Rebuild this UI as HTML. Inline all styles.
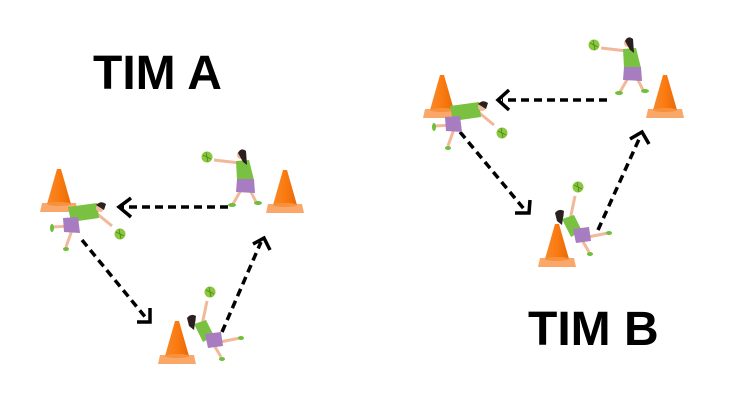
<!DOCTYPE html>
<html><head><style>
html,body{margin:0;padding:0;background:#fff;}
svg{display:block;}
text{font-family:"Liberation Sans",sans-serif;font-weight:bold;font-size:48px;fill:#000;}
</style></head><body>
<svg width="736" height="413" viewBox="0 0 736 413" xmlns="http://www.w3.org/2000/svg">
<defs>
<linearGradient id="cg" x1="0" x2="1">
<stop offset="0" stop-color="#f58a2a"/><stop offset="0.5" stop-color="#fb7a10"/><stop offset="1" stop-color="#e86a08"/>
</linearGradient>
<g id="cone">
<polygon points="-17,-4 17,-4 19,5 -19,5" fill="#f9a86a"/>
<polygon points="-2,-38 2,-38 12,-3 -12,-3" fill="url(#cg)"/>
<ellipse cx="0" cy="-3" rx="12" ry="2" fill="#f7913e"/>
</g>
<g id="ball"><circle r="5.5" fill="#8bc63f"/><path d="M-4,-2 L4,2 M-1,-5 L1,5" stroke="#4a8a1a" stroke-width="0.8"/></g>
<g id="p1">
<line x1="240" y1="163" x2="214" y2="160" stroke="#f2b89a" stroke-width="3"/>
<line x1="241" y1="190" x2="233" y2="204" stroke="#f2b89a" stroke-width="3"/>
<line x1="250" y1="190" x2="256" y2="202" stroke="#f2b89a" stroke-width="3"/>
<polygon points="236,161 249,160 254,180 237,180" fill="#7ac142"/>
<polygon points="237,179 254,179 255,193 236,192" fill="#a77cc0"/>
<circle cx="241" cy="155" r="4" fill="#f2b89a"/>
<path d="M238,153 Q241,147 246,151 L247,165 L243,162 Z" fill="#2a2020"/>
<ellipse cx="232" cy="205" rx="4" ry="2" fill="#6fbf3a"/>
<ellipse cx="258" cy="203" rx="4" ry="2" fill="#6fbf3a"/>
<use href="#ball" x="207" y="157"/>
</g>
<g id="p2">
<line x1="95" y1="212" x2="112" y2="226" stroke="#f2b89a" stroke-width="3"/>
<line x1="70" y1="226" x2="53" y2="227" stroke="#f2b89a" stroke-width="3"/>
<line x1="72" y1="230" x2="66" y2="247" stroke="#f2b89a" stroke-width="3"/>
<polygon points="68,207 97,203 99,218 71,222" fill="#7ac142"/>
<polygon points="63,218 78,217 80,233 64,232" fill="#a77cc0"/>
<circle cx="100" cy="208" r="4" fill="#f2b89a"/>
<path d="M96,205 Q101,200 106,204 L104,210 Z" fill="#2a2020"/>
<ellipse cx="52" cy="228" rx="2" ry="4" fill="#6fbf3a"/>
<ellipse cx="66" cy="249" rx="3" ry="2" fill="#6fbf3a"/>
<use href="#ball" x="120" y="234"/>
</g>
<g id="p3">
<line x1="202" y1="325" x2="207" y2="301" stroke="#f2b89a" stroke-width="3"/>
<line x1="220" y1="342" x2="240" y2="338" stroke="#f2b89a" stroke-width="3"/>
<line x1="214" y1="345" x2="221" y2="357" stroke="#f2b89a" stroke-width="3"/>
<polygon points="194,324 206,320 214,336 203,342" fill="#7ac142"/>
<polygon points="205,334 221,332 223,346 208,348" fill="#a77cc0"/>
<circle cx="192" cy="320" r="4" fill="#f2b89a"/>
<path d="M187,318 Q191,313 196,316 L194,330 L189,326 Z" fill="#2a2020"/>
<ellipse cx="241" cy="338" rx="3" ry="2" fill="#6fbf3a"/>
<ellipse cx="222" cy="359" rx="3" ry="2" fill="#6fbf3a"/>
<use href="#ball" x="210" y="292"/>
</g>
</defs>
<text x="93" y="89">TIM A</text>
<text x="528" y="345">TIM B</text>

<!-- Team A -->
<use href="#cone" x="59" y="207"/>
<use href="#cone" x="285" y="208"/>
<use href="#cone" x="177" y="359"/>
<g stroke="#000" stroke-width="3.5" fill="none">
<line x1="228" y1="207" x2="122" y2="207" stroke-dasharray="8,5"/>
<polyline points="131,198 119,207 131,217"/>
<line x1="82" y1="240" x2="146" y2="318" stroke-dasharray="8,5"/>
<polyline points="137,322 150,322 150,308"/>
<line x1="222" y1="332" x2="261" y2="242" stroke-dasharray="8,5"/>
<polyline points="253,244 264,238 270,250"/>
</g>
<use href="#p1"/><use href="#p2"/><use href="#p3"/>

<!-- Team B -->
<use href="#cone" x="442" y="113"/>
<use href="#cone" x="665" y="113"/>
<use href="#cone" x="557" y="262"/>
<g stroke="#000" stroke-width="3.5" fill="none">
<line x1="607" y1="100" x2="502" y2="100" stroke-dasharray="8,5"/>
<polyline points="509,90 498,100 509,110"/>
<line x1="460" y1="132" x2="524" y2="209" stroke-dasharray="8,5"/>
<polyline points="515,213 529,213 530,200"/>
<line x1="598" y1="230" x2="640" y2="137" stroke-dasharray="8,5"/>
<polyline points="630,139 642,132 649,144"/>
</g>
<use href="#p1" x="387" y="-112"/>
<use href="#p2" x="382" y="-101"/>
<use href="#p3" x="368" y="-105"/>
</svg>
</body></html>
